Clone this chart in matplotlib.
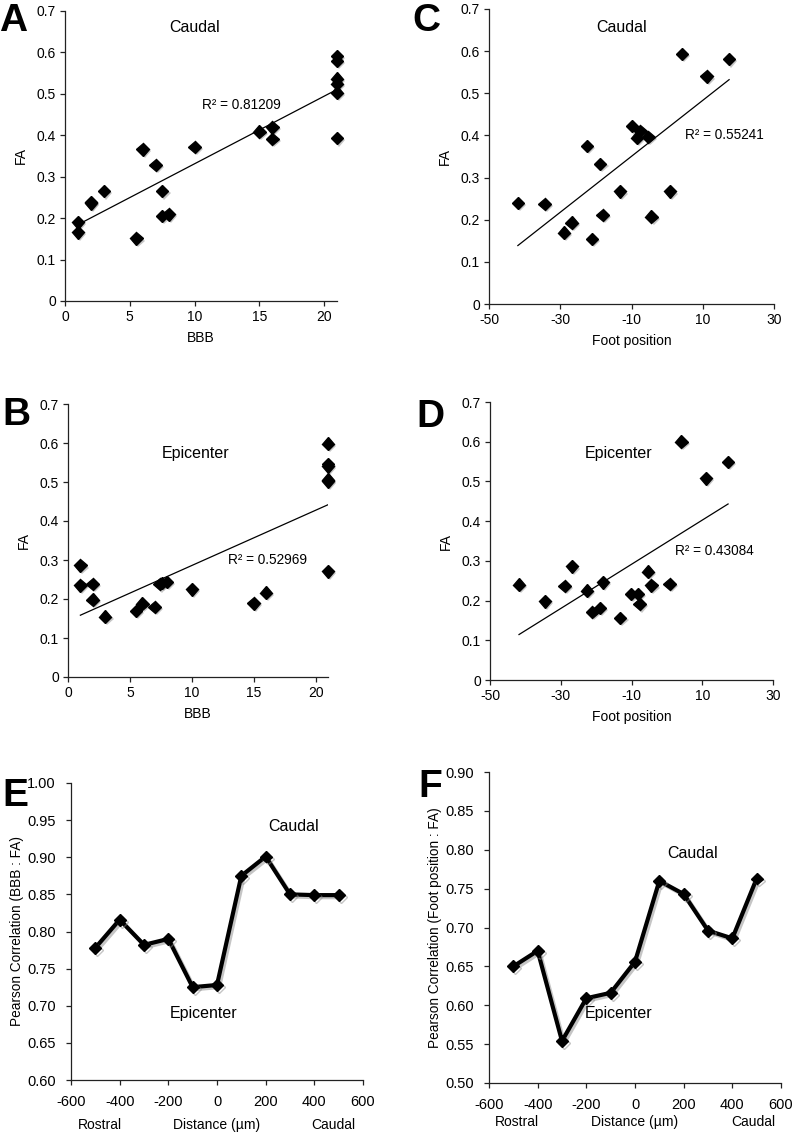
import numpy as np
import matplotlib
matplotlib.use("Agg")
import matplotlib.pyplot as plt
import matplotlib.patheffects as pe

plt.rcParams['font.family'] = ['Liberation Sans', 'DejaVu Sans']
plt.rcParams['font.size'] = 10
plt.rcParams['axes.unicode_minus'] = False

# ---------------- data ----------------
# Panel A: Caudal, BBB vs FA
a_bbb = [1, 1, 2, 2, 3, 5.5, 6, 7, 7.5, 7.5, 8, 10, 15, 16, 16, 21, 21, 21, 21, 21, 21]
a_fa = [0.190, 0.166, 0.236, 0.238, 0.265, 0.151, 0.366, 0.328, 0.265, 0.205, 0.209,
        0.372, 0.409, 0.419, 0.391, 0.591, 0.579, 0.537, 0.525, 0.503, 0.393]
a_r2 = "R² = 0.81209"

# Panel C: Caudal, Foot position vs FA
c_foot = [-41.9, -34.4, -29.0, -26.8, -22.5, -21.1, -18.8, -18.1, -13.2, -9.9, -8.5,
          -7.5, -5.3, -4.4, 0.8, 4.2, 11.1, 17.4]
c_fa = [0.240, 0.237, 0.169, 0.193, 0.375, 0.154, 0.332, 0.211, 0.267, 0.422, 0.395,
        0.411, 0.396, 0.207, 0.267, 0.593, 0.540, 0.581]
c_r2 = "R² = 0.55241"

# Panel B: Epicenter, BBB vs FA
b_bbb = [1, 1, 2, 2, 3, 5.5, 6, 7, 7.4, 7.6, 8, 10, 15, 16, 21, 21, 21, 21, 21, 21]
b_fa = [0.286, 0.235, 0.239, 0.198, 0.155, 0.169, 0.188, 0.180, 0.238, 0.241, 0.244,
        0.225, 0.189, 0.216, 0.598, 0.546, 0.540, 0.506, 0.502, 0.271]
b_r2 = "R² = 0.52969"

# Panel D: Epicenter, Foot position vs FA
d_foot = [-41.8, -34.5, -28.9, -26.8, -22.6, -21.1, -18.1, -18.9, -13.2, -10.1, -8.2,
          -7.7, -5.3, -4.4, 0.8, 4.1, 11.0, 17.3]
d_fa = [0.240, 0.198, 0.237, 0.286, 0.225, 0.171, 0.246, 0.181, 0.156, 0.217, 0.217,
        0.191, 0.273, 0.238, 0.242, 0.600, 0.508, 0.549]
d_r2 = "R² = 0.43084"

# Panels E/F: Pearson correlation vs distance
distance = [-500, -400, -300, -200, -100, 0, 100, 200, 300, 400, 500]
e_corr = [0.778, 0.816, 0.782, 0.790, 0.725, 0.728, 0.875, 0.901, 0.850, 0.849, 0.849]
f_corr = [0.650, 0.670, 0.554, 0.609, 0.616, 0.656, 0.760, 0.743, 0.696, 0.686, 0.763]

fa_ticks = [0, 0.1, 0.2, 0.3, 0.4, 0.5, 0.6, 0.7]
fa_ticklabels = ["0", "0.1", "0.2", "0.3", "0.4", "0.5", "0.6", "0.7"]
bbb_ticks = [0, 5, 10, 15, 20]
foot_ticks = [-50, -30, -10, 10, 30]
dist_ticks = [-600, -400, -200, 0, 200, 400, 600]
e_ticks = [0.60, 0.65, 0.70, 0.75, 0.80, 0.85, 0.90, 0.95, 1.00]
f_ticks = [0.50, 0.55, 0.60, 0.65, 0.70, 0.75, 0.80, 0.85, 0.90]

W, H = 792, 1132
fig = plt.figure(figsize=(W / 100, H / 100), dpi=100)


def add_ax(left, right, top, bottom):
    return fig.add_axes([left / W, 1 - bottom / H, (right - left) / W, (bottom - top) / H])


shadow = [pe.SimplePatchShadow(offset=(1.5, -1.5), shadow_rgbFace='0.55', alpha=0.5), pe.Normal()]
line_shadow = [pe.SimpleLineShadow(offset=(1.5, -1.5), shadow_color='0.55', alpha=0.5), pe.Normal()]


def style(ax, labelsize=10, pad=3):
    for s in ['top', 'right']:
        ax.spines[s].set_visible(False)
    for s in ['left', 'bottom']:
        ax.spines[s].set_linewidth(0.9)
        ax.spines[s].set_color('#222222')
    ax.tick_params(direction='out', length=3.5, width=0.9, labelsize=labelsize, pad=pad,
                   colors='#222222', labelcolor='black')


def scatter_panel(ax, x, y, xlim, xticks, xlabel, title_xy, title, r2_xy, r2):
    ax.plot(x, y, linestyle='none', marker='D', markersize=6.4, color='black',
            path_effects=shadow, zorder=3, clip_on=False)
    slope, intercept = np.polyfit(x, y, 1)
    xs = np.array([min(x), max(x)])
    ax.plot(xs, slope * xs + intercept, color='black', linewidth=0.9, zorder=2)
    ax.set_xlim(*xlim)
    ax.set_ylim(0, 0.7)
    ax.set_xticks(xticks)
    ax.set_yticks(fa_ticks)
    ax.set_yticklabels(fa_ticklabels)
    ax.set_xlabel(xlabel, fontsize=10, labelpad=5)
    ax.set_ylabel("FA", fontsize=10, labelpad=6)
    ax.text(title_xy[0], title_xy[1], title, ha='center', va='center', fontsize=11.5)
    ax.text(r2_xy[0], r2_xy[1], r2, ha='center', va='center', fontsize=9.8)
    style(ax)


axA = add_ax(65, 337, 11, 301)
scatter_panel(axA, a_bbb, a_fa, (0, 21), bbb_ticks, "BBB", (10.0, 0.66), "Caudal", (13.6, 0.473), a_r2)
axC = add_ax(489, 774, 9, 304)
scatter_panel(axC, c_foot, c_fa, (-50, 30), foot_ticks, "Foot position", (-12.7, 0.656), "Caudal",
              (16.0, 0.40), c_r2)
axB = add_ax(68, 328, 404, 677)
scatter_panel(axB, b_bbb, b_fa, (0, 21), bbb_ticks, "BBB", (10.3, 0.573), "Epicenter", (16.1, 0.299), b_r2)
axD = add_ax(490, 773, 402, 680)
scatter_panel(axD, d_foot, d_fa, (-50, 30), foot_ticks, "Foot position", (-13.7, 0.57), "Epicenter",
              (13.3, 0.325), d_r2)


def line_panel(ax, y, yticks, ylabel, caudal_xy, epi_xy):
    ax.plot(distance, y, color='black', linewidth=3.0, marker='D', markersize=6,
            path_effects=line_shadow, zorder=3)
    ax.set_xlim(-600, 600)
    ax.set_ylim(yticks[0], yticks[-1])
    ax.set_xticks(dist_ticks)
    ax.set_yticks(yticks)
    ax.set_yticklabels([f"{t:.2f}" for t in yticks])
    ax.set_ylabel(ylabel, fontsize=9.8, labelpad=2.5)
    ax.text(caudal_xy[0], caudal_xy[1], "Caudal", ha='center', va='center', fontsize=11.5)
    ax.text(epi_xy[0], epi_xy[1], "Epicenter", ha='center', va='center', fontsize=11.5)
    style(ax, labelsize=10.5, pad=7.5)


axE = add_ax(71, 363, 783, 1080)
line_panel(axE, e_corr, e_ticks, "Pearson Correlation (BBB : FA)", (313, 0.941), (-56, 0.690))
axE.set_xlabel("Distance (µm)", fontsize=10, labelpad=6)
axE.text(-482, 0, "Rostral", transform=axE.get_xaxis_transform(), ha='center', va='center', fontsize=10)
axE.text(477, 0, "Caudal", transform=axE.get_xaxis_transform(), ha='center', va='center', fontsize=10)

axF = add_ax(489, 781, 772, 1083)
line_panel(axF, f_corr, f_ticks, "Pearson Correlation (Foot position : FA)", (235, 0.795), (-68, 0.590))
axF.set_xlabel("Distance (µm)", fontsize=10, labelpad=2)
axF.text(-485, 0, "Rostral", transform=axF.get_xaxis_transform(), ha='center', va='center', fontsize=10)
axF.text(488, 0, "Caudal", transform=axF.get_xaxis_transform(), ha='center', va='center', fontsize=10)

# put Rostral / Caudal on the same row as the "Distance" label
fig.canvas.draw()
for ax in (axE, axF):
    lab = ax.xaxis.label
    bb = lab.get_window_extent()
    yc_fig = ((bb.y0 + bb.y1) / 2) / fig.bbox.height
    for t in ax.texts[-2:]:
        xdata = t.get_position()[0]
        xfig = fig.transFigure.inverted().transform(ax.transData.transform((xdata, 0)))[0]
        t.set_transform(fig.transFigure)
        t.set_position((xfig, yc_fig))

# panel letters (center x, baseline y in pixels)
for letter, (px, py) in {"A": (13, 31), "C": (426, 31), "B": (16, 425), "D": (430, 427),
                         "E": (15, 806), "F": (430, 797)}.items():
    fig.text(px / W, 1 - py / H, letter, ha='center', va='baseline', fontsize=28, fontweight='bold')

fig.savefig("out.png", dpi=100)
